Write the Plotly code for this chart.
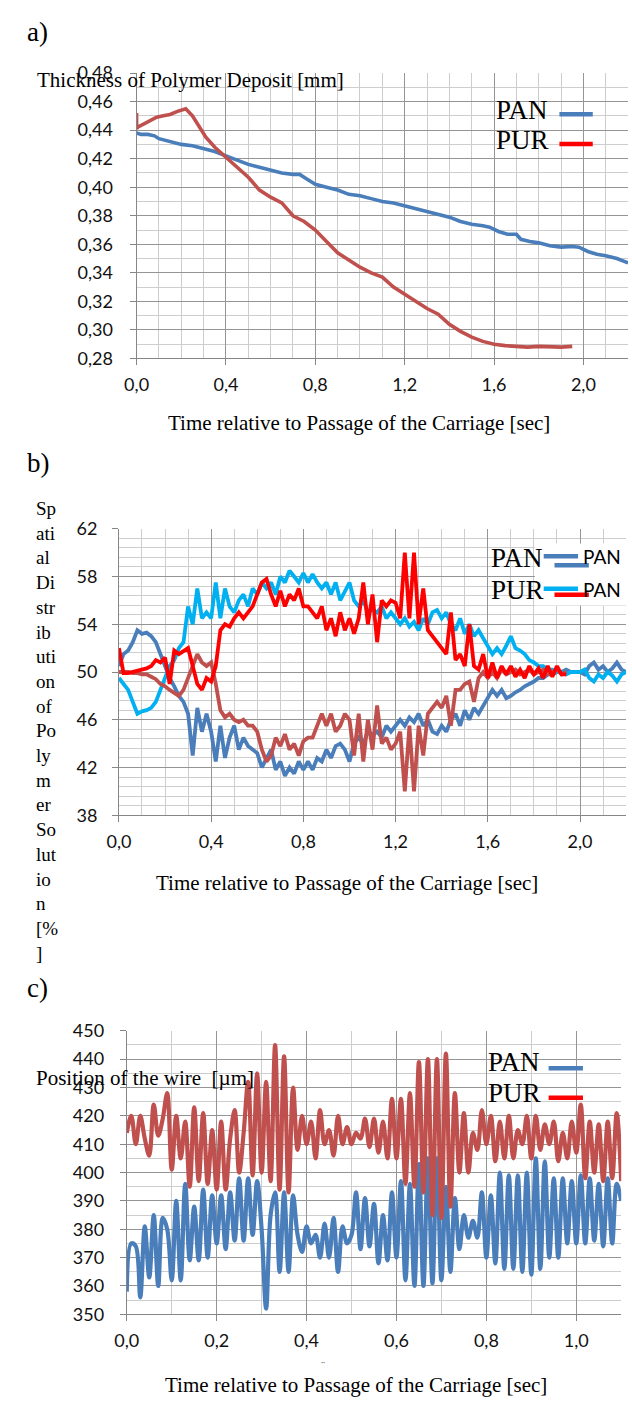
import plotly.graph_objects as go

# ---------------- Panel a data ----------------
a_pan_t = [0.00, 0.02, 0.05, 0.08, 0.10, 0.15, 0.20, 0.25, 0.30, 0.35, 0.40, 0.45, 0.50, 0.55, 0.60, 0.65,
           0.70, 0.73, 0.76, 0.80, 0.85, 0.90, 0.95, 1.00, 1.05, 1.10, 1.15, 1.20, 1.25, 1.30, 1.35, 1.40,
           1.45, 1.50, 1.55, 1.58, 1.62, 1.66, 1.70, 1.72, 1.76, 1.80, 1.85, 1.90, 1.95, 1.98, 2.02, 2.06,
           2.10, 2.15, 2.20]
a_pan_v = [0.438, 0.437, 0.437, 0.436, 0.434, 0.432, 0.430, 0.429, 0.427, 0.425, 0.422, 0.419, 0.416, 0.414,
           0.412, 0.410, 0.409, 0.409, 0.406, 0.402, 0.400, 0.398, 0.395, 0.394, 0.392, 0.390, 0.389, 0.387,
           0.385, 0.383, 0.381, 0.379, 0.376, 0.374, 0.373, 0.372, 0.369, 0.367, 0.367, 0.3635, 0.362, 0.361,
           0.359, 0.358, 0.3585, 0.358, 0.355, 0.353, 0.352, 0.350, 0.347]
a_pur_t = [0.00, 0.00, 0.005, 0.03, 0.06, 0.09, 0.12, 0.15, 0.18, 0.21, 0.22, 0.25, 0.28, 0.31, 0.35, 0.40,
           0.45, 0.50, 0.55, 0.60, 0.65, 0.70, 0.75, 0.80, 0.85, 0.90, 0.95, 1.00, 1.05, 1.10, 1.15, 1.20,
           1.25, 1.30, 1.35, 1.40, 1.45, 1.50, 1.55, 1.60, 1.65, 1.70, 1.75, 1.80, 1.85, 1.90, 1.95]
a_pur_v = [0.452, 0.441, 0.442, 0.444, 0.446, 0.449, 0.450, 0.451, 0.453, 0.455, 0.455, 0.450, 0.443, 0.435,
           0.428, 0.421, 0.414, 0.407, 0.398, 0.393, 0.389, 0.380, 0.376, 0.370, 0.362, 0.354, 0.349, 0.344,
           0.340, 0.337, 0.330, 0.325, 0.320, 0.315, 0.311, 0.304, 0.299, 0.295, 0.292, 0.290, 0.289, 0.2885,
           0.288, 0.2885, 0.288, 0.288, 0.2885]

# ---------------- Panel b data (step 0.02 s) ----------------
b_t = [round(i * 0.02, 2) for i in range(111)]
b_pan1 = [50.5, 51.5, 51.8, 52.5, 53.5, 53.2, 53.3, 53.0, 52.5, 51.5, 50.5, 49.5, 48.8, 48.0, 47.5, 46.5,
          43.0, 47.0, 45.0, 46.5, 45.0, 42.5, 45.5, 42.8, 44.5, 45.5, 43.5, 44.5, 43.8, 43.5, 43.2, 42.0,
          42.8, 43.5, 41.8, 42.5, 41.3, 42.0, 41.5, 42.5, 41.8, 42.5, 41.8, 42.8, 42.5, 43.5, 42.8, 43.8,
          44.0, 43.5, 42.5, 44.0, 44.5, 44.0, 45.0, 44.8, 45.0, 44.5, 45.5, 45.0, 45.5, 46.0, 45.5, 46.2,
          45.8, 46.5, 45.5, 46.0, 45.0, 44.8, 45.5, 45.0, 46.0, 46.5, 45.5, 46.8, 46.0, 47.0, 46.5, 47.2,
          47.8, 48.5, 48.0, 48.5, 47.8, 48.0, 48.3, 48.5, 48.8, 49.0, 49.2, 49.5, 49.5, 49.8, 49.8, 50.0,
          50.0, 50.2, 50.0, 50.0, 50.0, 49.8, 50.5, 50.8, 50.2, 50.5, 50.0, 50.3, 50.8, 50.2, 50.0]
b_pan2 = [49.5, 49.0, 48.5, 47.5, 46.5, 46.7, 46.8, 47.0, 47.5, 48.5, 49.5, 50.5, 51.0, 52.0, 52.5, 55.5,
          54.0, 57.0, 54.5, 55.0, 54.5, 57.5, 54.5, 57.0, 55.5, 55.0, 56.0, 56.5, 55.5, 57.0, 56.5, 57.5,
          57.0, 57.5, 56.5, 58.0, 57.5, 58.5, 58.0, 57.5, 58.3, 57.5, 58.2, 57.5, 57.0, 57.5, 56.5, 57.5,
          56.0, 56.8, 57.5, 56.0, 55.5, 56.0, 55.0, 55.2, 55.0, 55.5, 54.5, 55.0, 54.5, 54.0, 54.5, 53.8,
          54.2, 53.5, 54.5, 54.0, 55.0, 55.2, 54.5, 55.0, 54.0, 53.5, 54.5, 53.2, 54.0, 53.0, 53.5, 52.8,
          52.2, 51.5, 52.0, 51.5, 52.2, 53.0, 52.0, 51.8, 51.5, 51.0, 50.8, 50.5, 50.5, 50.2, 50.2, 50.0,
          50.0, 49.8, 50.0, 50.0, 50.0, 50.2, 49.5, 49.2, 49.8, 49.5, 50.0, 49.7, 49.2, 49.8, 50.0]
b_pur_t = [round(i * 0.02, 2) for i in range(98)]
b_pur1 = [50.0, 50.0, 50.0, 49.9, 49.9, 49.8, 49.8, 49.6, 49.4, 49.0, 48.8, 48.5, 48.2, 48.0, 48.5, 49.5,
          50.5, 51.5, 50.8, 50.5, 50.8, 49.0, 46.8, 46.2, 46.5, 46.0, 45.8, 46.0, 45.5, 45.5, 45.0, 43.5,
          42.5, 43.0, 44.5, 43.8, 44.8, 43.5, 44.0, 43.0, 44.2, 44.5, 44.5, 45.5, 46.5, 45.5, 46.5, 45.0,
          45.5, 46.5, 46.0, 43.0, 46.5, 42.5, 46.0, 43.5, 47.2, 44.0, 44.5, 43.5, 44.0, 45.0, 40.0, 45.5,
          40.0, 45.5, 43.0, 46.5, 47.0, 47.5, 47.0, 48.0, 45.5, 48.5, 48.5, 49.0, 49.2, 47.5, 49.5, 50.0,
          49.5, 50.0, 49.5, 50.2, 49.8, 50.0, 50.2, 49.8, 50.0, 50.2, 49.8, 50.0, 50.2, 49.8, 50.0, 50.2,
          49.8, 50.0]
b_pur2 = [52.0, 49.9, 49.9, 50.0, 50.1, 50.2, 50.3, 50.5, 51.0, 50.8, 51.2, 49.0, 51.8, 51.5, 51.8, 52.0,
          50.5, 49.0, 48.5, 49.5, 49.2, 50.5, 53.5, 54.0, 53.8, 54.5, 55.0, 54.5, 55.0, 55.5, 56.5, 57.5,
          57.8, 56.5, 55.5, 56.8, 55.5, 56.5, 56.0, 57.0, 55.5, 55.5, 55.0, 54.5, 55.5, 53.5, 54.5, 53.0,
          55.0, 53.5, 54.5, 53.2, 54.5, 57.5, 54.0, 56.5, 52.5, 56.0, 55.5, 56.0, 55.8, 54.5, 60.0, 54.5,
          60.0, 54.0, 57.0, 53.5, 53.0, 52.5, 52.0, 51.5, 55.0, 51.0, 51.5, 50.5, 54.0, 50.5, 50.2, 51.5,
          49.5, 50.8, 49.5, 50.5, 49.8, 50.5, 49.6, 50.2, 49.5, 50.5, 49.8, 50.3, 49.5, 50.5, 49.6, 50.5,
          49.8, 49.8]

# ---------------- Panel c data (step 0.01 s) ----------------
c_t = [round(i * 0.01, 2) for i in range(111)]
c_pan = [358, 375, 374, 356, 381, 363, 385, 360, 384, 380, 362, 390, 362, 396, 369, 388, 369, 394, 370, 392,
         375, 392, 373, 393, 376, 398, 376, 398, 378, 397, 380, 352, 385, 393, 365, 393, 365, 392, 378, 372,
         381, 375, 378, 370, 382, 370, 384, 365, 381, 375, 378, 393, 373, 391, 374, 389, 368, 385, 369, 393,
         370, 397, 362, 396, 360, 403, 360, 405, 361, 405, 362, 395, 365, 391, 373, 385, 377, 383, 377, 393,
         370, 392, 368, 400, 366, 399, 366, 399, 365, 400, 364, 405, 366, 404, 370, 398, 370, 398, 375, 397,
         375, 399, 375, 398, 376, 396, 374, 398, 375, 396, 390]
c_pur = [414, 420, 410, 420, 412, 406, 424, 413, 419, 428, 401, 420, 405, 418, 395, 423, 397, 421, 396, 415,
         394, 418, 394, 412, 422, 400, 414, 432, 399, 435, 400, 432, 397, 445, 394, 441, 393, 430, 408, 420,
         410, 418, 405, 422, 410, 415, 406, 420, 410, 416, 410, 414, 412, 419, 409, 419, 407, 418, 405, 426,
         405, 426, 396, 428, 395, 439, 393, 440, 385, 440, 384, 442, 388, 428, 400, 421, 400, 414, 408, 422,
         410, 420, 404, 418, 405, 420, 405, 415, 410, 420, 405, 420, 408, 417, 410, 418, 404, 414, 405, 418,
         407, 424, 398, 418, 400, 417, 397, 418, 398, 421, 397]

# ---------------- Labels ----------------
panel_labels = ["a)", "b)", "c)"]
x_title = "Time relative to Passage of the Carriage [sec]"
y_title_a = "Thickness of Polymer Deposit [mm]"
y_title_b_lines = ["Sp", "ati", "al", "Di", "str", "ib", "uti", "on", "of", "Po", "ly", "m", "er",
                   "So", "lut", "io", "n", "[%", "]"]
y_title_c = "Position of the wire  [µm]"
legend_names = ["PAN", "PUR"]

# ---------------- Styles ----------------
W, H = 632, 1407
BLUE = "#4a7ebb"
RED = "#c0504d"
LBLUE = "#00b0f0"
BRED = "#ff0000"
SERIF = "Liberation Serif"
SANS = "Lato"
MAJ = "#959595"
MIN = "#cdcdcd"
AXC = "#868686"


def px(x):
    return x / W


def py(y):
    return 1 - y / H


fig = go.Figure()

fig.add_trace(go.Scatter(x=a_pan_t, y=a_pan_v, mode="lines", line=dict(color=BLUE, width=3.6),
                         xaxis="x", yaxis="y", showlegend=False))
fig.add_trace(go.Scatter(x=a_pur_t, y=a_pur_v, mode="lines", line=dict(color=RED, width=3.6),
                         xaxis="x", yaxis="y", showlegend=False))

fig.add_trace(go.Scatter(x=b_t, y=b_pan1, mode="lines", line=dict(color=BLUE, width=3.8),
                         xaxis="x2", yaxis="y2", showlegend=False))
fig.add_trace(go.Scatter(x=b_t, y=b_pan2, mode="lines", line=dict(color=LBLUE, width=3.8),
                         xaxis="x2", yaxis="y2", showlegend=False))
fig.add_trace(go.Scatter(x=b_pur_t, y=b_pur1, mode="lines", line=dict(color=RED, width=3.8),
                         xaxis="x2", yaxis="y2", showlegend=False))
fig.add_trace(go.Scatter(x=b_pur_t, y=b_pur2, mode="lines", line=dict(color=BRED, width=3.8),
                         xaxis="x2", yaxis="y2", showlegend=False))

fig.add_trace(go.Scatter(x=c_t, y=c_pan, mode="lines", line=dict(color=BLUE, width=4.2, shape="spline"),
                         xaxis="x3", yaxis="y3", showlegend=False))
fig.add_trace(go.Scatter(x=c_t, y=c_pur, mode="lines", line=dict(color=RED, width=4.2, shape="spline"),
                         xaxis="x3", yaxis="y3", showlegend=False))

TICKFONT = dict(family=SANS, size=18, color="#111")


def xax(domain, anchor, rng, dtick, minor):
    return dict(domain=domain, anchor=anchor, range=rng, dtick=dtick, tick0=0, tickformat=".1f",
                showgrid=True, gridcolor=MAJ, gridwidth=1, showline=True, linecolor=AXC,
                ticks="outside", ticklen=6, tickcolor=AXC, zeroline=False,
                tickfont=TICKFONT, ticklabelstandoff=4,
                minor=dict(dtick=minor, tick0=0, showgrid=True, gridcolor=MIN, ticks=""))


def yax(domain, anchor, rng, dtick, minor, fmt, standoff):
    return dict(domain=domain, anchor=anchor, range=rng, dtick=dtick, tick0=rng[0], tickformat=fmt,
                showgrid=True, gridcolor=MAJ, gridwidth=1, showline=True, linecolor=AXC,
                ticks="outside", ticklen=6, tickcolor=AXC, zeroline=False,
                tickfont=TICKFONT, ticklabelstandoff=standoff,
                minor=dict(dtick=minor, tick0=rng[0], showgrid=True, gridcolor=MIN, ticks=""))


layout = dict(
    width=W, height=H, margin=dict(l=0, r=0, t=0, b=0),
    paper_bgcolor="white", plot_bgcolor="white", separators=", ", showlegend=False,
    xaxis=xax([px(127), px(628)], "y", [0, 2.2], 0.4, 0.1),
    yaxis=yax([py(352), py(62)], "x", [0.28, 0.48], 0.02, 0.01, ".2f", 13),
    xaxis2=xax([px(109), px(626)], "y2", [0, 2.2], 0.4, 0.1),
    yaxis2=yax([py(816), py(525)], "x2", [38, 62], 4, 0.8, "d", 11),
    xaxis3=xax([px(117), px(621)], "y3", [0, 1.1], 0.2, 0.1),
    yaxis3=yax([py(1323), py(1035)], "x3", [350, 450], 10, 5, "d", 12),
)
fig.update_layout(**layout)

ann = []
shapes = []

# panel labels
for lab, yy in zip(panel_labels, [20, 458, 992]):
    ann.append(dict(text=lab, x=px(13), y=py(yy), xref="paper", yref="paper", xanchor="left",
                    yanchor="middle", showarrow=False, font=dict(family=SERIF, size=27, color="black")))

# x titles
for yy, xc in zip([418, 885, 1395], [354, 341, 351]):
    ann.append(dict(text=x_title, x=px(xc), y=py(yy), xref="paper", yref="paper", xanchor="center",
                    yanchor="middle", showarrow=False, font=dict(family=SERIF, size=21, color="black")))

# y titles
ann.append(dict(text=y_title_a, x=px(23), y=py(69), xref="paper", yref="paper", xanchor="left",
                yanchor="middle", showarrow=False, font=dict(family=SERIF, size=21, color="black")))
ann.append(dict(text="<br>".join(y_title_b_lines), x=px(22), y=py(730), xref="paper", yref="paper",
                xanchor="left", yanchor="middle", align="left", showarrow=False,
                font=dict(family=SERIF, size=19, color="black")))
ann.append(dict(text=y_title_c, x=px(22), y=py(1083), xref="paper", yref="paper", xanchor="left",
                yanchor="middle", showarrow=False, font=dict(family=SERIF, size=21, color="black")))

# small artifact under panel c axis
ann.append(dict(text="··", x=px(317), y=py(1371), xref="paper", yref="paper", xanchor="center",
                yanchor="middle", showarrow=False, font=dict(family=SANS, size=8, color="#666")))


def seg(x0, x1, y, color, w=4.5):
    shapes.append(dict(type="line", xref="paper", yref="paper", x0=px(x0), x1=px(x1), y0=py(y), y1=py(y),
                       line=dict(color=color, width=w), layer="above"))


def legtext(t, x, y, size=27, fam=SERIF):
    ann.append(dict(text=t, x=px(x), y=py(y), xref="paper", yref="paper", xanchor="left",
                    yanchor="middle", showarrow=False, font=dict(family=fam, size=size, color="black")))


# legend a
legtext(legend_names[0], 491, 100)
legtext(legend_names[1], 491, 130)
seg(558, 592, 104, BLUE)
seg(558, 592, 134, BRED)

# legend b (white box + overlapping entries)
shapes.append(dict(type="rect", xref="paper", yref="paper", x0=px(533), x1=px(628), y0=py(603), y1=py(540),
                   fillcolor="white", line=dict(width=0), layer="above"))
legtext(legend_names[0], 486, 555)
legtext(legend_names[1], 486, 587)
seg(542, 577, 553, BLUE)
seg(553, 588, 562, BLUE)
seg(542, 577, 586, LBLUE)
seg(553, 588, 592, BRED)
legtext(legend_names[0], 580, 553, size=19, fam=SANS)
legtext(legend_names[0], 580, 587, size=19, fam=SANS)

# legend c
legtext(legend_names[0], 483, 1067)
legtext(legend_names[1], 483, 1098)
seg(547, 582, 1073, BLUE)
seg(547, 582, 1103, BRED)

fig.update_layout(annotations=ann, shapes=shapes)
fig.write_html("out.html", config={"displayModeBar": False},
               post_script="document.body.style.margin='0';")
